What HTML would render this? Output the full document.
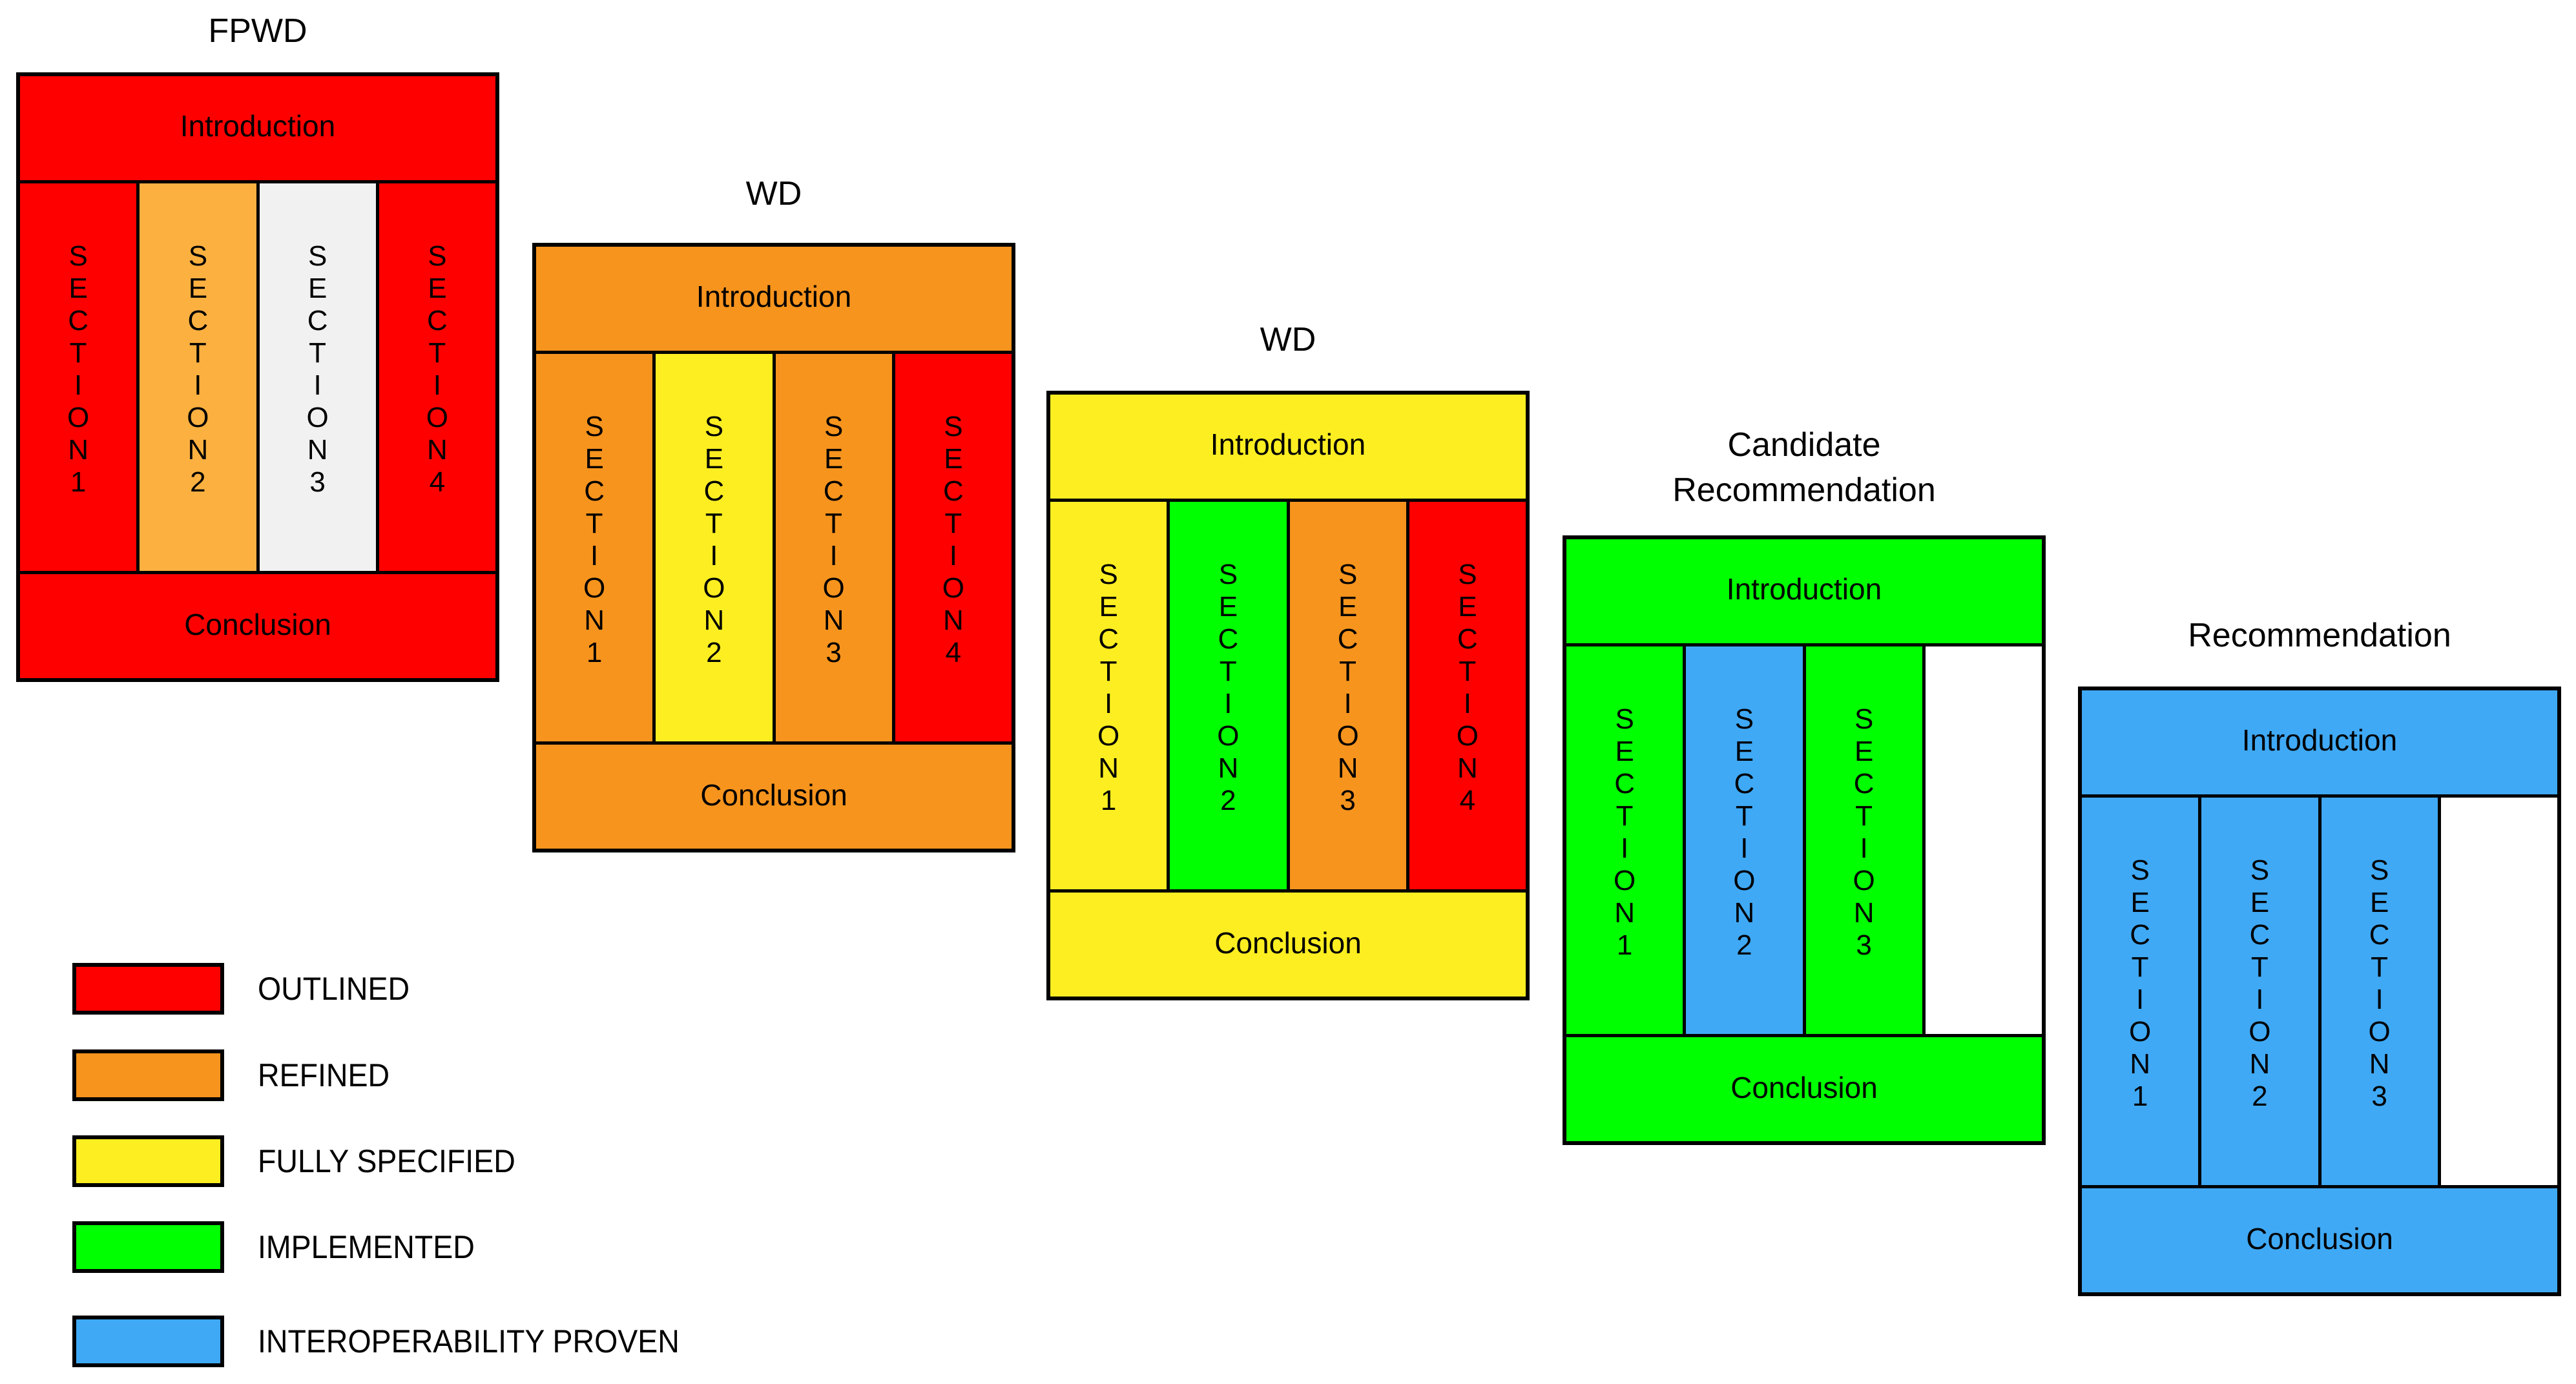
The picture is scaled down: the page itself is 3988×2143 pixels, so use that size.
<!DOCTYPE html>
<html><head><meta charset="utf-8"><style>
body{margin:0;width:3988px;height:2143px;background:#fff;position:relative;overflow:hidden;font-family:"Liberation Sans",sans-serif;color:#000}
.box{position:absolute;width:748px;height:944px;border:6px solid #000;box-sizing:border-box;display:flex;flex-direction:column}
.intro,.conc{height:166px;display:flex;align-items:center;justify-content:center;font-size:46px}
.intro{border-bottom:5px solid #000;padding-bottom:8px;box-sizing:border-box}
.conc{border-top:5px solid #000;padding-bottom:6px;box-sizing:border-box}
.cols{flex:1;display:flex}
.col{flex:1;display:flex;justify-content:center;align-items:center;font-size:44px;line-height:50px;text-align:center;border-left:5px solid #000;padding-bottom:24px;box-sizing:border-box}
.col:first-child{border-left:none}
.t{position:absolute;font-size:52px;text-align:center;width:748px;line-height:70px}
.sw{position:absolute;left:112px;width:235px;height:80px;border:6px solid #000;box-sizing:border-box}
.lb{position:absolute;left:399px;font-size:50px;line-height:60px;transform:scaleX(0.93);transform-origin:left center;white-space:nowrap}
.R{background:#ff0000}.O{background:#f7941d}.LO{background:#fbb040}.G{background:#f1f1f1}.Y{background:#fcee21}.GR{background:#00ff00}.B{background:#3fa9f5}.W{background:#fff}
</style></head><body>

<div class="t" style="left:25px;top:13px">FPWD</div>
<div class="box R" style="left:25px;top:112px">
<div class="intro">Introduction</div>
<div class="cols">
<div class="col R">S<br>E<br>C<br>T<br>I<br>O<br>N<br>1</div>
<div class="col LO">S<br>E<br>C<br>T<br>I<br>O<br>N<br>2</div>
<div class="col G">S<br>E<br>C<br>T<br>I<br>O<br>N<br>3</div>
<div class="col R">S<br>E<br>C<br>T<br>I<br>O<br>N<br>4</div>
</div>
<div class="conc">Conclusion</div>
</div>

<div class="t" style="left:824px;top:265px">WD</div>
<div class="box O" style="left:824px;top:376px">
<div class="intro">Introduction</div>
<div class="cols">
<div class="col O">S<br>E<br>C<br>T<br>I<br>O<br>N<br>1</div>
<div class="col Y">S<br>E<br>C<br>T<br>I<br>O<br>N<br>2</div>
<div class="col O">S<br>E<br>C<br>T<br>I<br>O<br>N<br>3</div>
<div class="col R">S<br>E<br>C<br>T<br>I<br>O<br>N<br>4</div>
</div>
<div class="conc">Conclusion</div>
</div>

<div class="t" style="left:1620px;top:491px">WD</div>
<div class="box Y" style="left:1620px;top:605px">
<div class="intro">Introduction</div>
<div class="cols">
<div class="col Y">S<br>E<br>C<br>T<br>I<br>O<br>N<br>1</div>
<div class="col GR">S<br>E<br>C<br>T<br>I<br>O<br>N<br>2</div>
<div class="col O">S<br>E<br>C<br>T<br>I<br>O<br>N<br>3</div>
<div class="col R">S<br>E<br>C<br>T<br>I<br>O<br>N<br>4</div>
</div>
<div class="conc">Conclusion</div>
</div>

<div class="t" style="left:2419px;top:654px">Candidate<br>Recommendation</div>
<div class="box GR" style="left:2419px;top:829px">
<div class="intro">Introduction</div>
<div class="cols">
<div class="col GR">S<br>E<br>C<br>T<br>I<br>O<br>N<br>1</div>
<div class="col B">S<br>E<br>C<br>T<br>I<br>O<br>N<br>2</div>
<div class="col GR">S<br>E<br>C<br>T<br>I<br>O<br>N<br>3</div>
<div class="col W"></div>
</div>
<div class="conc">Conclusion</div>
</div>

<div class="t" style="left:3217px;top:949px">Recommendation</div>
<div class="box B" style="left:3217px;top:1063px">
<div class="intro">Introduction</div>
<div class="cols">
<div class="col B">S<br>E<br>C<br>T<br>I<br>O<br>N<br>1</div>
<div class="col B">S<br>E<br>C<br>T<br>I<br>O<br>N<br>2</div>
<div class="col B">S<br>E<br>C<br>T<br>I<br>O<br>N<br>3</div>
<div class="col W"></div>
</div>
<div class="conc">Conclusion</div>
</div>

<div class="sw R" style="top:1491px"></div><div class="lb" style="top:1501px">OUTLINED</div>
<div class="sw O" style="top:1625px"></div><div class="lb" style="top:1635px">REFINED</div>
<div class="sw Y" style="top:1758px"></div><div class="lb" style="top:1768px">FULLY SPECIFIED</div>
<div class="sw GR" style="top:1891px"></div><div class="lb" style="top:1901px">IMPLEMENTED</div>
<div class="sw B" style="top:2037px"></div><div class="lb" style="top:2047px">INTEROPERABILITY PROVEN</div>

</body></html>
